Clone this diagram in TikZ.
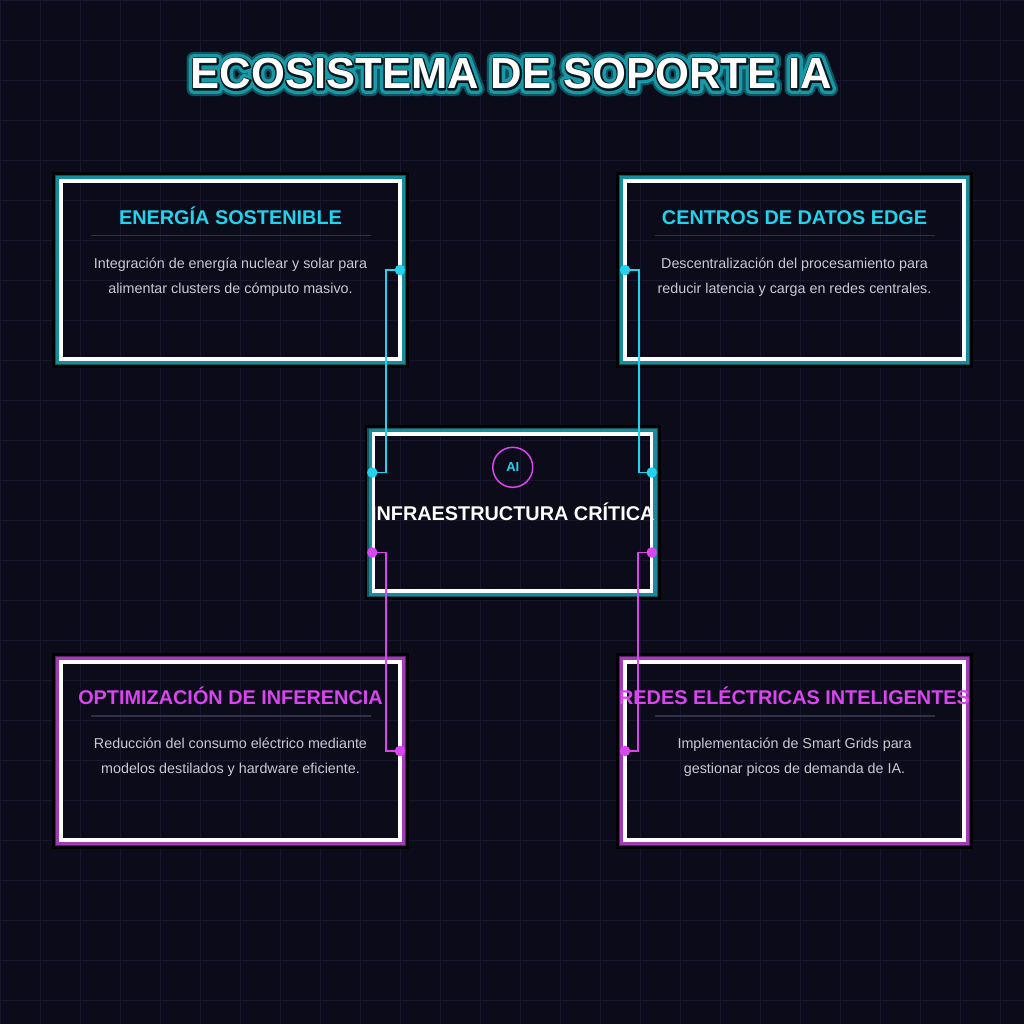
\documentclass[tikz,border=0pt]{standalone}
\usepackage{fontspec}
\setmainfont{Liberation Sans}
\usetikzlibrary{positioning}

\definecolor{bgcol}{HTML}{0B0B1A}
\definecolor{gridcol}{HTML}{18172E}
\definecolor{neoncyan}{HTML}{22D3EE}
\definecolor{neonpink}{HTML}{D946EF}
\definecolor{tealdark}{HTML}{0E555F}
\definecolor{tealmid}{HTML}{178C9C}
\definecolor{purpledark}{HTML}{5C1F6C}
\definecolor{purplemid}{HTML}{A23BB8}
\definecolor{desccol}{HTML}{CACAD6}
\definecolor{sepcol}{HTML}{30304A}

% outlined text (fill and stroke) for the title glow
\newcommand{\strokedtext}[3]{\special{pdf:code q 2 Tr 1 j #1 w #2 RG}#3\special{pdf:code Q}}

\begin{document}
\begin{tikzpicture}[x=0.02cm,y=-0.02cm,
	box/.style={minimum width=6.78cm,minimum height=3.56cm,inner sep=0pt,outer sep=0pt},
	gridline/.style={draw=gridcol,line width=0.55pt},
	box_title/.style={font=\bfseries\fontsize{11.3}{13}\selectfont,anchor=base},
	box_desc/.style={font=\fontsize{8.15}{14.2}\selectfont,text=desccol,align=center,anchor=base},
	sep_line/.style={draw=sepcol,line width=0.6pt},
	wire/.style={line width=1.1pt},
	port/.style={circle,inner sep=0pt,minimum size=0.21cm},
	main_title/.style={font=\bfseries\fontsize{24.8}{28}\selectfont,anchor=base}]

	% background and grid
	\fill[bgcol] (0,0) rectangle (1024,1024);
	\useasboundingbox (0,0) rectangle (1024,1024);
	\foreach \g in {0,40,...,1000} {
		\draw[gridline] (\g,0) -- (\g,1024);
		\draw[gridline] (0,\g) -- (1024,\g);
	}

	% title
	\coordinate (title_pos) at (511.5,89);
	\node[main_title,text=tealdark] (title_glow_outer) at (title_pos) {\strokedtext{8}{0.05 0.33 0.37}{ECOSISTEMA DE SOPORTE IA}};
	\node[main_title,text=tealmid] (title_glow) at (title_pos) {\strokedtext{5.6}{0.1 0.6 0.66}{ECOSISTEMA DE SOPORTE IA}};
	\node[main_title,text=black] (title_edge) at (title_pos) {\strokedtext{1.8}{0.02 0.1 0.12}{ECOSISTEMA DE SOPORTE IA}};
	\node[main_title,text=white] (title) at (title_pos) {ECOSISTEMA DE SOPORTE IA};

	% boxes
	\node[box] (energia) at (230.5,270) {};
	\node[box] (centros) at (794.5,270) {};
	\node[box] (optim) at (230.5,751) {};
	\node[box] (redes) at (794.5,751) {};
	\node[box,minimum width=5.56cm,minimum height=3.14cm] (infra) at (512.75,512.5) {};

	\foreach \b/\dk/\md in {energia/tealdark/tealmid,centros/tealdark/tealmid,infra/tealdark/tealmid,optim/purpledark/purplemid,redes/purpledark/purplemid} {
		\draw[black,line width=5.1pt] ([shift={(-4.5,-4.5)}]\b.north west) rectangle ([shift={(4.5,4.5)}]\b.south east);
		\draw[\dk,line width=3.7pt] ([shift={(-3.25,-3.25)}]\b.north west) rectangle ([shift={(3.25,3.25)}]\b.south east);
		\draw[\md,line width=2.7pt] ([shift={(-2.4,-2.4)}]\b.north west) rectangle ([shift={(2.4,2.4)}]\b.south east);
		\draw[white,line width=1.8pt] (\b.north west) rectangle (\b.south east);
	}

	% ports and wires
	\coordinate (energia_out) at (energia.east);
	\coordinate (centros_out) at (centros.west);
	\coordinate (optim_out) at (optim.east);
	\coordinate (redes_out) at (redes.west);
	\coordinate (infra_in_nw) at ([shift={(-1.5,-40)}]infra.west);
	\coordinate (infra_in_ne) at ([shift={(0,-40)}]infra.east);
	\coordinate (infra_in_sw) at ([shift={(-1.5,40)}]infra.west);
	\coordinate (infra_in_se) at ([shift={(0,40)}]infra.east);

	\draw[wire,neoncyan] (energia_out) -- ++(-14,0) |- (infra_in_nw);
	\draw[wire,neoncyan] (centros_out) -- ++(14,0) |- (infra_in_ne);
	\draw[wire,neonpink] (infra_in_sw) -- ++(14,0) |- (optim_out);
	\draw[wire,neonpink] (infra_in_se) -- ++(-14,0) |- (redes_out);

	\foreach \p in {energia_out,centros_out,infra_in_nw,infra_in_ne}
		\node[port,fill=neoncyan] (\p_dot) at (\p) {};
	\foreach \p in {optim_out,redes_out,infra_in_sw,infra_in_se}
		\node[port,fill=neonpink] (\p_dot) at (\p) {};

	% texts
	\node[box_title,text=neoncyan] (energia_title) at ([shift={(0,-46)}]energia.center) {ENERGÍA SOSTENIBLE};
	\draw[sep_line] ([shift={(-140,-34.5)}]energia.center) -- ([shift={(140,-34.5)}]energia.center);
	\node[box_desc] (energia_desc) at ([shift={(0,23)}]energia.center) {Integración de energía nuclear y solar para\\alimentar clusters de cómputo masivo.};

	\node[box_title,text=neoncyan] (centros_title) at ([shift={(0,-46)}]centros.center) {CENTROS DE DATOS EDGE};
	\draw[sep_line] ([shift={(-140,-34.5)}]centros.center) -- ([shift={(140,-34.5)}]centros.center);
	\node[box_desc] (centros_desc) at ([shift={(0,23)}]centros.center) {Descentralización del procesamiento para\\reducir latencia y carga en redes centrales.};

	\node[box_title,text=neonpink] (optim_title) at ([shift={(0,-47)}]optim.center) {OPTIMIZACIÓN DE INFERENCIA};
	\draw[sep_line] ([shift={(-140,-35)}]optim.center) -- ([shift={(140,-35)}]optim.center);
	\node[box_desc] (optim_desc) at ([shift={(0,22.5)}]optim.center) {Reducción del consumo eléctrico mediante\\modelos destilados y hardware eficiente.};

	\node[box_title,text=neonpink] (redes_title) at ([shift={(0,-47)}]redes.center) {REDES ELÉCTRICAS INTELIGENTES};
	\draw[sep_line] ([shift={(-140,-35)}]redes.center) -- ([shift={(140,-35)}]redes.center);
	\node[box_desc] (redes_desc) at ([shift={(0,22.5)}]redes.center) {Implementación de Smart Grids para\\gestionar picos de demanda de IA.};

	\node[circle,draw=neonpink,line width=0.85pt,minimum size=0.8cm,inner sep=0pt,text=neoncyan,font=\bfseries\fontsize{7.4}{9}\selectfont] (ai_badge) at ([shift={(0,-45.2)}]infra.center) {AI};
	\node[box_title,text=white] (infra_title) at ([shift={(0,8)}]infra.center) {INFRAESTRUCTURA CRÍTICA};
\end{tikzpicture}
\end{document}
